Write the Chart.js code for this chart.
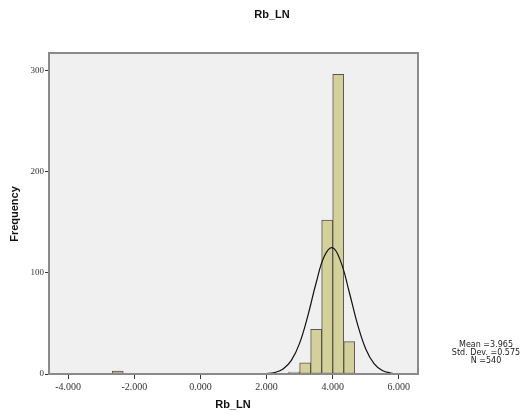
<!DOCTYPE html>
<html>
<head>
<meta charset="utf-8">
<script src="https://cdn.jsdelivr.net/npm/chart.js@4"></script>
<style>
  html, body { margin: 0; padding: 0; background: #fff; }
  #wrap { width: 532px; height: 416px; }
</style>
</head>
<body>
<div id="wrap"><canvas id="histChart" width="532" height="416"></canvas></div>
<script>
// Histogram bins (bin centres, width 1/3) and counts
const binCenters = [-2.5, 2.833, 3.167, 3.5, 3.833, 4.167, 4.5];
const binCounts = [3, 2, 11, 44, 152, 296, 32];

// Normal curve
const curveX = [1.25, 1.5, 1.75, 2.0, 2.25, 2.5, 2.75, 3.0, 3.25, 3.5, 3.75, 4.0, 4.25, 4.5, 4.75, 5.0, 5.25, 5.5, 5.75, 6.0, 6.25, 6.5];
const curveY = [0, 0, 0.1, 0.4, 1.5, 4.9, 13.4, 30.5, 57.7, 90.1, 116.5, 124.7, 110.5, 81.0, 49.2, 24.7, 10.3, 3.5, 1.0, 0.2, 0, 0];

// Tick labels
const xTicks = [-4, -2, 0, 2, 4, 6];
const yTicks = [0, 100, 200, 300];

const statLines = ["Mean =3.965", "Std. Dev. =0.575", "N =540"];
const chartTitle = "Rb_LN";
const xTitle = "Rb_LN";
const yTitle = "Frequency";

// background + frame for plot area, plus titles and stats box
const decor = {
    id: "decor",
    beforeDraw(chart) {
        const { ctx, chartArea: a } = chart;
        ctx.save();
        ctx.fillStyle = "#f0f0f0";
        ctx.fillRect(a.left, a.top, a.right - a.left, a.bottom - a.top);
        ctx.restore();
    },
    afterDraw(chart) {
        const { ctx, chartArea: a } = chart;
        ctx.save();
        ctx.strokeStyle = "#8a8a8a";
        ctx.lineWidth = 2;
        ctx.strokeRect(a.left, a.top, a.right - a.left, a.bottom - a.top);

        ctx.fillStyle = "#111";
        ctx.textAlign = "center";
        ctx.textBaseline = "middle";
        ctx.font = "bold 11px 'Liberation Sans', Arial, sans-serif";
        ctx.fillText(chartTitle, 272, 15);
        ctx.fillText(xTitle, 233, 405);

        ctx.save();
        ctx.translate(15, 214);
        ctx.rotate(-Math.PI / 2);
        ctx.fillText(yTitle, 0, 0);
        ctx.restore();

        ctx.font = "8px 'DejaVu Sans', sans-serif";
        ctx.fillStyle = "#222";
        statLines.forEach((t, i) => ctx.fillText(t, 486, 345 + i * 8));
        ctx.restore();
    }
};

const ctx = document.getElementById("histChart").getContext("2d");
new Chart(ctx, {
    type: "bar",
    data: {
        datasets: [{
            type: "line",
            data: curveX.map((x, i) => ({ x: x, y: curveY[i] })),
            borderColor: "#111",
            borderWidth: 1.2,
            pointRadius: 0,
            tension: 0.4,
            fill: false,
            order: 0
        }, {
            type: "bar",
            data: binCenters.map((x, i) => ({ x: x, y: binCounts[i] })),
            backgroundColor: "#d4d09a",
            borderColor: "#555",
            borderWidth: 1,
            borderSkipped: false,
            barPercentage: 1,
            categoryPercentage: 1,
            order: 1
        }]
    },
    options: {
        responsive: false,
        animation: false,
        layout: { padding: { top: 53, right: 114, left: 0, bottom: 0 } },
        plugins: { legend: { display: false }, tooltip: { enabled: false } },
        scales: {
            x: {
                type: "linear",
                min: -4.58,
                max: 6.58,
                offset: false,
                afterBuildTicks: s => { s.ticks = xTicks.map(v => ({ value: v })); },
                afterFit: s => { s.height = 42; },
                grid: { display: true, drawOnChartArea: false, drawTicks: true, tickLength: 5, color: "#333", offset: false },
                border: { display: false },
                ticks: {
                    color: "#333",
                    padding: 2,
                    maxRotation: 0,
                    font: { family: "'Liberation Serif', serif", size: 10 },
                    callback: v => v.toFixed(3)
                }
            },
            y: {
                min: 0,
                max: 317,
                afterBuildTicks: s => { s.ticks = yTicks.map(v => ({ value: v })); },
                afterFit: s => { s.width = 49; },
                grid: { display: true, drawOnChartArea: false, drawTicks: true, tickLength: 4, color: "#333" },
                border: { display: false },
                ticks: {
                    color: "#333",
                    padding: 1,
                    font: { family: "'Liberation Serif', serif", size: 9 }
                }
            }
        }
    },
    plugins: [decor]
});
</script>
</body>
</html>
